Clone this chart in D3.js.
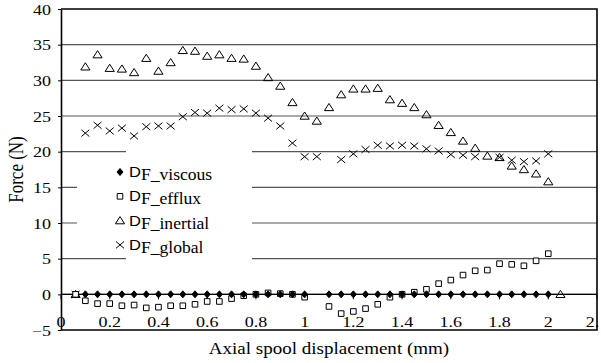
<!DOCTYPE html>
<html>
<head>
<meta charset="utf-8">
<script src="https://cdn.jsdelivr.net/npm/d3@7"></script>
<style>
  body { margin: 0; background: #fff; }
  svg { display: block; }
  text { font-family: "Liberation Serif", "Times New Roman", serif; fill: #000; }
</style>
</head>
<body>
<div id="chart"></div>
<script>
// displacement (mm) of every measured point
const displacement = [0.06, 0.1, 0.15, 0.2, 0.25, 0.3, 0.35, 0.4, 0.45, 0.5, 0.55, 0.6, 0.65, 0.7, 0.75, 0.8, 0.85, 0.9, 0.95, 1.0,
  1.05, 1.1, 1.15, 1.2, 1.25, 1.3, 1.35, 1.4, 1.45, 1.5, 1.55, 1.6, 1.65, 1.7, 1.75, 1.8, 1.85, 1.9, 1.95, 2.0, 2.05];

const viscous = [null, 0, 0, 0, 0, 0, 0, 0, 0, 0, 0, 0, 0, 0, 0, 0, 0, 0, 0, 0,
  null, 0, 0, 0, 0, 0, 0, 0, 0, 0, 0, 0, 0, 0, 0, 0, 0, 0, 0, 0, null];
const efflux = [0, -0.9, -1.3, -1.3, -1.6, -1.5, -1.9, -1.8, -1.6, -1.6, -1.4, -1.0, -1.0, -0.6, -0.2, 0, 0.2, 0.1, 0, -0.4,
  null, -1.7, -2.7, -2.4, -2.0, -1.4, -0.4, 0, 0.3, 0.7, 1.5, 2.0, 2.7, 3.3, 3.4, 4.3, 4.2, 4.0, 4.7, 5.7, null];
const inertial = [0, 31.9, 33.6, 31.7, 31.6, 31.1, 33.1, 31.3, 32.5, 34.2, 34.1, 33.4, 33.6, 33.1, 33.0, 32.0, 30.4, 29.2, 26.9, 25.0,
  24.3, 26.2, 28.0, 28.8, 28.8, 28.9, 27.3, 26.8, 26.2, 25.2, 23.7, 22.7, 21.5, 20.5, 19.4, 19.2, 18.0, 17.5, 16.9, 15.8, 0];
const global = [0, 22.6, 23.7, 22.9, 23.3, 22.2, 23.5, 23.6, 23.6, 24.9, 25.5, 25.4, 26.1, 25.9, 26.0, 25.4, 24.7, 23.6, 21.2, 19.3,
  19.3, null, 18.9, 19.7, 20.3, 20.9, 20.8, 20.9, 20.8, 20.4, 20.1, 19.6, 19.5, 19.3, null, 19.2, 18.8, 18.6, 18.7, 19.7, null];

const seriesNames = ["F_viscous", "F_efflux", "F_inertial", "F_global"];
const xTicks = [0, 0.2, 0.4, 0.6, 0.8, 1, 1.2, 1.4, 1.6, 1.8, 2, 2.2];
const yTicks = [-5, 0, 5, 10, 15, 20, 25, 30, 35, 40];

const W = 601, H = 363;
const sx = 1.2; // the original picture is a bit stretched sideways

const svg = d3.select("#chart").append("svg")
  .attr("width", W)
  .attr("height", H);

const x = d3.scaleLinear().domain([0, 2.2]).range([61, 597]);
const y = d3.scaleLinear().domain([-5, 40]).range([330, 9]);

// horizontal gridlines
svg.append("g")
  .selectAll("line")
  .data(yTicks.filter(d => d > -5 && d < 40))
  .enter()
  .append("line")
  .attr("x1", x(0))
  .attr("x2", x(2.2))
  .attr("y1", d => y(d))
  .attr("y2", d => y(d))
  .attr("stroke", "#555")
  .attr("stroke-width", 1.2);

// legend background hides part of the gridlines
svg.append("rect").attr("x", 126).attr("y", 147).attr("width", 126).attr("height", 115).attr("fill", "#fff");
svg.append("rect").attr("x", 77).attr("y", 155).attr("width", 175).attr("height", 98).attr("fill", "#fff");

// y axis with labels
const yAxis = svg.append("g")
  .attr("transform", `translate(${x(0)},0)`)
  .call(d3.axisLeft(y).tickValues(yTicks).tickSize(3).tickSizeOuter(0).tickFormat(d3.format("d")));
yAxis.select(".domain").attr("stroke", "#000").attr("stroke-width", 1.6);
yAxis.selectAll("line").attr("stroke", "#000");
yAxis.selectAll("text")
  .attr("x", null).attr("dy", null)
  .attr("font-family", null)
  .attr("font-size", 15)
  .attr("transform", d => `translate(-10,5) scale(${sx},1)`);

// frame: top, right, bottom
svg.append("path")
  .attr("d", `M${x(0)},${y(40)}H${x(2.2)}V${y(-5)}H${x(0)}`)
  .attr("fill", "none")
  .attr("stroke", "#000")
  .attr("stroke-width", 1.6);

// x axis drawn on the zero line, labels sit near the bottom
svg.append("line")
  .attr("x1", x(0)).attr("x2", x(2.2))
  .attr("y1", y(0)).attr("y2", y(0))
  .attr("stroke", "#000").attr("stroke-width", 1.2);
svg.append("g")
  .selectAll("line")
  .data(xTicks)
  .enter()
  .append("line")
  .attr("x1", d => x(d)).attr("x2", d => x(d))
  .attr("y1", y(0)).attr("y2", y(0) + 5)
  .attr("stroke", "#000");

svg.append("clipPath").attr("id", "clipx")
  .append("rect").attr("x", 0).attr("y", 0).attr("width", 599).attr("height", H);
svg.append("g")
  .attr("clip-path", "url(#clipx)")
  .selectAll("text")
  .data(xTicks)
  .enter()
  .append("text")
  .attr("transform", d => `translate(${x(d)},327) scale(${sx},1)`)
  .attr("text-anchor", "middle")
  .attr("font-size", 15)
  .text(d => d);

// axis titles
svg.append("text")
  .attr("transform", `translate(${x(1.1)},354) scale(1.12,1)`)
  .attr("text-anchor", "middle")
  .attr("font-size", 17)
  .text("Axial spool displacement (mm)");

svg.append("text")
  .attr("transform", `translate(23,${y(17.5)}) rotate(-90) scale(1,${sx})`)
  .attr("text-anchor", "middle")
  .attr("font-size", 17)
  .text("Force (N)");

// marker shapes
const markers = [
  { d: "M0,-3.5L3,0L0,3.5L-3,0Z", fill: "#000" },
  { d: "M-2.8,-2.8H2.8V2.8H-2.8Z", fill: "#fff" },
  { d: "M0,-4L4.6,3.2H-4.6Z", fill: "none" },
  { d: "M-4,-3.4L4,3.4M-4,3.4L4,-3.4", fill: "none" }
];
const seriesValues = [viscous, efflux, inertial, global];

// draw global and inertial first so the small ones stay on top
[3, 2, 1, 0].forEach(i => {
  const pts = displacement.map((d, j) => ({ x: d, y: seriesValues[i][j] })).filter(p => p.y !== null);
  svg.append("g")
    .selectAll("path")
    .data(pts)
    .enter()
    .append("path")
    .attr("transform", p => `translate(${x(p.x)},${y(p.y)})`)
    .attr("d", markers[i].d)
    .attr("fill", markers[i].fill)
    .attr("stroke", "#000")
    .attr("stroke-width", 1);
});

// legend
const legend = svg.append("g")
  .selectAll("g")
  .data(seriesNames)
  .enter()
  .append("g")
  .attr("transform", (d, i) => `translate(120,${172 + i * 24.3})`);

legend.append("path")
  .attr("d", (d, i) => markers[i].d)
  .attr("fill", (d, i) => markers[i].fill)
  .attr("stroke", "#000");

const ltext = legend.append("text")
  .attr("transform", `translate(9,5) scale(1.1,1)`);
ltext.append("tspan")
  .attr("font-family", "'Liberation Sans', Arial, sans-serif")
  .attr("font-size", 15)
  .text("D");
ltext.append("tspan")
  .attr("font-size", 16)
  .attr("dy", 3)
  .text(d => d);
</script>
</body>
</html>
